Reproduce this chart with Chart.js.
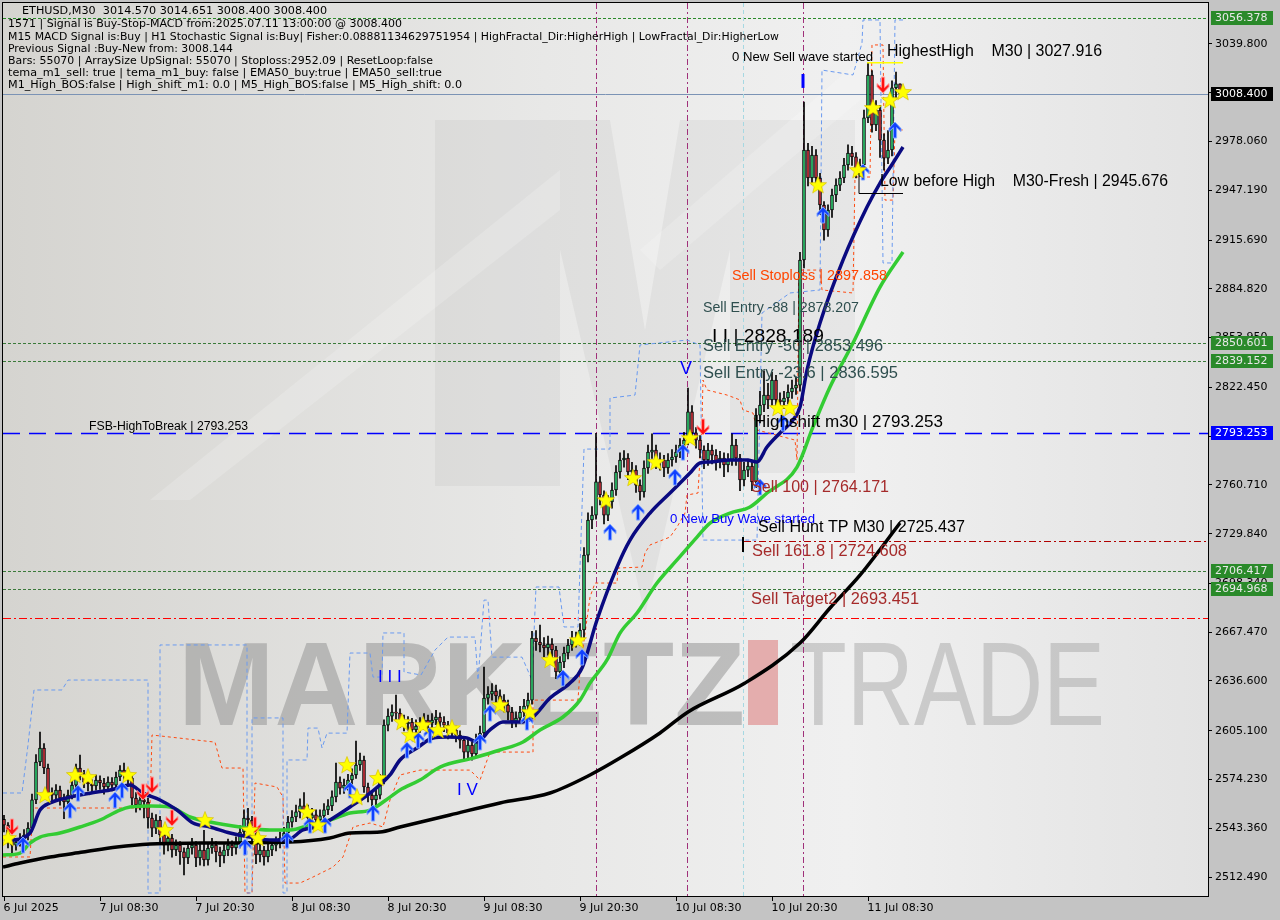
<!DOCTYPE html>
<html><head><meta charset="utf-8">
<script src="https://cdn.jsdelivr.net/npm/chart.js@4.4.1/dist/chart.umd.min.js"></script>
<style>html,body{margin:0;padding:0;background:#c4c4c4;overflow:hidden}</style>
</head><body>
<canvas id="c" width="1280" height="920"></canvas>
<script>
// ===== DATA (ETHUSD M30, bar 0 = 6 Jul 2025 20:30) =====
const opens = [2549.0,2545.4,2535.9,2532.7,2534.6,2537.2,2539.1,2543.5,2561.3,2585.3,
2594.2,2581.5,2565.7,2564.4,2567.6,2562.5,2560.0,2564.4,2570.7,2581.5,
2577.1,2572.6,2571.4,2570.1,2573.9,2572.0,2569.5,2572.6,2570.7,2575.8,
2580.2,2578.3,2575.2,2562.5,2558.1,2561.3,2560.0,2549.9,2543.5,2548.6,
2539.1,2532.7,2537.2,2529.6,2532.7,2528.4,2524.6,2530.9,2532.7,2524.6,
2529.6,2523.3,2530.9,2532.7,2528.4,2525.9,2529.6,2532.7,2530.9,2534.6,
2541.0,2549.9,2548.6,2539.1,2526.5,2529.6,2525.2,2529.6,2532.7,2534.6,
2537.2,2540.4,2547.3,2550.5,2553.7,2557.5,2555.0,2549.9,2551.8,2548.6,
2551.2,2555.0,2557.5,2563.2,2572.6,2568.8,2570.7,2573.9,2577.1,2583.4,
2586.6,2569.5,2564.4,2561.3,2564.4,2573.9,2608.7,2614.4,2616.9,2616.3,
2611.9,2609.4,2610.6,2605.6,2608.1,2609.4,2611.9,2610.0,2611.9,2613.8,
2610.6,2608.7,2603.7,2605.6,2602.4,2599.2,2591.6,2596.1,2590.4,2599.2,
2603.7,2625.8,2628.3,2630.2,2627.1,2624.5,2621.4,2616.9,2611.2,2613.1,
2616.9,2620.7,2624.5,2663.8,2661.3,2659.4,2657.5,2660.0,2656.2,2642.3,
2648.6,2654.3,2659.4,2663.8,2662.5,2668.9,2716.3,2738.5,2741.6,2762.6,
2754.3,2741.6,2749.9,2757.5,2768.9,2776.5,2777.7,2768.9,2770.1,2760.6,
2756.2,2771.4,2781.5,2782.8,2775.2,2776.5,2771.4,2776.5,2778.4,2781.5,
2786.0,2789.1,2806.9,2793.6,2789.1,2782.8,2776.5,2782.8,2779.6,2775.2,
2777.7,2773.3,2776.5,2786.0,2777.7,2763.8,2770.1,2772.6,2762.6,2804.9,
2811.3,2817.6,2814.5,2827.1,2814.5,2813.2,2815.7,2819.5,2822.0,2823.9,
2903.1,2972.7,2955.0,2969.5,2955.0,2937.9,2922.1,2934.7,2944.2,2950.5,
2955.0,2963.2,2970.8,2968.3,2960.0,2963.2,2993.0,3020.2,2988.5,2998.0,
2979.0,2967.6,2972.7,3012.0,3014.57];
const highs = [2551.5,2547.0,2538.5,2537.0,2540.0,2542.5,2547.0,2565.0,2590.0,2604.3,
2597.0,2584.0,2569.0,2571.0,2570.0,2565.0,2567.5,2574.0,2584.0,2589.7,
2580.0,2575.5,2574.0,2577.0,2576.5,2575.0,2576.0,2575.5,2579.0,2583.0,
2584.7,2581.0,2577.0,2566.0,2565.0,2564.5,2562.5,2553.0,2552.0,2551.0,
2542.0,2541.0,2539.5,2536.0,2535.0,2531.0,2534.0,2537.0,2535.0,2533.0,
2542.0,2534.5,2537.0,2535.0,2531.5,2533.0,2536.5,2535.5,2538.0,2545.0,
2555.0,2556.0,2551.0,2541.5,2533.0,2532.0,2533.5,2536.0,2538.0,2541.0,
2544.0,2551.0,2554.5,2558.0,2562.0,2566.0,2558.0,2556.0,2555.0,2555.0,
2559.0,2561.5,2567.0,2584.7,2576.0,2574.5,2577.5,2581.0,2598.6,2591.0,
2589.0,2572.0,2567.0,2568.0,2577.5,2612.0,2619.0,2621.5,2627.7,2619.0,
2615.0,2614.0,2613.0,2612.0,2613.5,2616.0,2615.0,2616.0,2618.0,2616.5,
2614.0,2611.0,2609.5,2608.0,2605.0,2601.5,2600.0,2598.0,2603.0,2608.0,
2645.4,2633.0,2635.0,2634.0,2631.0,2628.0,2624.5,2620.0,2617.0,2620.5,
2625.0,2629.0,2668.0,2668.5,2672.0,2664.0,2665.0,2663.5,2658.5,2652.0,
2658.0,2663.0,2668.0,2667.5,2673.0,2721.0,2743.0,2747.0,2793.3,2766.0,
2757.0,2754.0,2762.0,2773.0,2781.0,2782.5,2780.5,2775.0,2773.0,2764.0,
2776.0,2786.0,2793.0,2786.0,2781.0,2779.5,2780.5,2783.0,2786.0,2790.0,
2794.0,2822.0,2811.0,2797.0,2792.0,2785.5,2787.0,2786.0,2783.0,2782.0,
2781.0,2780.5,2793.0,2789.5,2780.0,2775.0,2777.0,2775.0,2809.0,2820.0,
2833.0,2825.0,2832.0,2830.0,2819.0,2820.0,2824.0,2827.0,2829.0,2908.0,
3003.0,2977.0,2975.0,2973.0,2958.0,2940.0,2938.0,2948.0,2954.5,2959.0,
2967.5,2976.0,2975.0,2971.0,2967.0,2998.0,3027.9,3023.0,3004.0,3001.0,
2983.0,2985.0,3016.5,3022.0,3014.651];
const lows = [2541.0,2531.0,2526.0,2529.5,2532.0,2534.5,2536.0,2541.5,2559.0,2583.0,
2578.0,2562.0,2560.5,2561.0,2558.0,2549.5,2557.0,2562.0,2568.5,2574.0,
2569.0,2567.0,2566.0,2567.5,2568.0,2565.0,2566.5,2567.0,2568.0,2573.5,
2574.5,2570.0,2558.0,2553.5,2555.0,2550.0,2543.5,2538.0,2540.0,2533.0,
2527.0,2529.0,2525.0,2526.0,2520.5,2513.8,2521.0,2527.0,2519.0,2520.0,
2519.5,2520.0,2527.5,2522.0,2519.0,2521.5,2526.0,2526.0,2527.0,2531.0,
2538.5,2544.0,2535.0,2521.0,2522.0,2520.0,2522.0,2526.0,2529.0,2531.0,
2534.0,2538.0,2544.0,2547.5,2550.0,2551.0,2545.0,2546.0,2544.0,2545.0,
2548.0,2552.0,2554.5,2560.0,2565.0,2565.5,2567.5,2571.0,2575.0,2580.0,
2566.0,2560.0,2557.0,2558.0,2562.0,2571.5,2605.0,2611.0,2612.0,2607.0,
2605.0,2605.5,2601.5,2602.0,2604.0,2606.0,2606.0,2606.5,2609.0,2606.0,
2604.5,2600.0,2600.5,2598.0,2594.0,2587.5,2588.0,2586.5,2588.0,2596.0,
2601.0,2622.0,2624.5,2623.0,2620.0,2617.0,2612.0,2607.0,2607.5,2610.0,
2614.0,2618.0,2622.0,2656.0,2655.0,2652.0,2653.0,2650.0,2638.0,2639.0,
2645.0,2650.5,2656.0,2658.0,2659.0,2664.0,2712.0,2733.0,2739.0,2748.0,
2736.0,2738.0,2746.0,2754.0,2765.0,2772.0,2764.0,2764.5,2756.0,2751.0,
2753.0,2768.0,2777.5,2771.0,2770.0,2766.0,2768.0,2772.5,2775.0,2778.0,
2783.0,2786.0,2789.0,2784.0,2778.0,2771.0,2773.0,2774.0,2770.0,2771.5,
2766.0,2769.0,2773.0,2773.0,2757.0,2760.0,2766.0,2757.0,2759.0,2800.0,
2807.0,2809.0,2811.0,2810.0,2808.5,2809.0,2812.0,2815.5,2818.0,2820.0,
2898.0,2950.0,2951.0,2949.0,2932.0,2915.7,2918.0,2930.0,2940.0,2947.0,
2952.0,2960.0,2963.0,2955.0,2956.0,2960.0,2990.0,2984.0,2985.0,2968.0,
2960.0,2964.0,2969.0,3005.0,3008.4];
const closes = [2545.4,2535.9,2532.7,2534.6,2537.2,2539.1,2543.5,2561.3,2585.3,2594.2,
2581.5,2565.7,2564.4,2567.6,2562.5,2560.0,2564.4,2570.7,2581.5,2577.1,
2572.6,2571.4,2570.1,2573.9,2572.0,2569.5,2572.6,2570.7,2575.8,2580.2,
2578.3,2575.2,2562.5,2558.1,2561.3,2560.0,2549.9,2543.5,2548.6,2539.1,
2532.7,2537.2,2529.6,2532.7,2528.4,2524.6,2530.9,2532.7,2524.6,2529.6,
2523.3,2530.9,2532.7,2528.4,2525.9,2529.6,2532.7,2530.9,2534.6,2541.0,
2549.9,2548.6,2539.1,2526.5,2529.6,2525.2,2529.6,2532.7,2534.6,2537.2,
2540.4,2547.3,2550.5,2553.7,2557.5,2555.0,2549.9,2551.8,2548.6,2551.2,
2555.0,2557.5,2563.2,2572.6,2568.8,2570.7,2573.9,2577.1,2583.4,2586.6,
2569.5,2564.4,2561.3,2564.4,2573.9,2608.7,2614.4,2616.9,2616.3,2611.9,
2609.4,2610.6,2605.6,2608.1,2609.4,2611.9,2610.0,2611.9,2613.8,2610.6,
2608.7,2603.7,2605.6,2602.4,2599.2,2591.6,2596.1,2590.4,2599.2,2603.7,
2625.8,2628.3,2630.2,2627.1,2624.5,2621.4,2616.9,2611.2,2613.1,2616.9,
2620.7,2624.5,2663.8,2661.3,2659.4,2657.5,2660.0,2656.2,2642.3,2648.6,
2654.3,2659.4,2663.8,2662.5,2668.9,2716.3,2738.5,2741.6,2762.6,2754.3,
2741.6,2749.9,2757.5,2768.9,2776.5,2777.7,2768.9,2770.1,2760.6,2756.2,
2771.4,2781.5,2782.8,2775.2,2776.5,2771.4,2776.5,2778.4,2781.5,2786.0,
2789.1,2806.9,2793.6,2789.1,2782.8,2776.5,2782.8,2779.6,2775.2,2777.7,
2773.3,2776.5,2786.0,2777.7,2763.8,2770.1,2772.6,2762.6,2804.9,2811.3,
2817.6,2814.5,2827.1,2814.5,2813.2,2815.7,2819.5,2822.0,2823.9,2903.1,
2972.7,2955.0,2969.5,2955.0,2937.9,2922.1,2934.7,2944.2,2950.5,2955.0,
2963.2,2970.8,2968.3,2960.0,2963.2,2993.0,3020.2,2988.5,2998.0,2979.0,
2967.6,2972.7,3012.0,3014.57,3008.4];

// moving averages (bar index, price)
const fastMaBars = [0,1.5,6.5,9,11.5,16.5,21.5,26.5,31.5,34.75,39,43.25,47.25,51.5,56.5,61.5,67.25,70.75,74.75,78.25,81.5,86.5,91.5,96.5,99,103.25,107.25,110.75,115.75,118.25,121.5,124.75,129.75,132.25,136.5,141.5,144.5,148.25,153.25,156.5,161.5,166.5,171.5,174,176.5,181.5,185.75,188.25,190.75,194,197.25,199,200.75,204,209.75,215.75,219,222.25,224.75];
const fastMaValues = [2536.5,2535.9,2540.4,2554.9,2559.4,2563.1,2565.6,2567.6,2570.7,2565.6,2561.3,2554.9,2546.7,2544.2,2540.4,2537.8,2535.9,2535.9,2542.3,2544.2,2548.6,2556.8,2565.6,2577.1,2586.6,2594.2,2600.5,2601.1,2600.5,2598.0,2605.6,2610.6,2610.6,2613.8,2625.8,2635.3,2644.8,2675.2,2708.7,2725.8,2742.9,2755.6,2768.2,2774.6,2775.2,2776.5,2776.5,2775.2,2784.7,2793.6,2801.8,2810.0,2833.4,2863.2,2903.0,2936.6,2951.8,2964.5,2974.6];
const ema50Bars = [-0.25,4,6.5,9,14,19,24,29,31.5,36.5,41.5,46.5,51.5,59,66.5,71.5,76.5,81.5,86.5,91.5,96.5,99,104,109,117.25,124,129.75,134,139.75,144,146.5,150.75,154,158.25,163.25,168.25,173.25,176.5,181.5,186.5,190.75,198.25,202.25,206.5,212.25,219,224.75];
const ema50Values = [2526.4,2527.7,2534.0,2537.8,2540.4,2544.2,2548.6,2554.9,2556.8,2557.5,2556.8,2550.5,2547.3,2544.2,2542.3,2542.3,2545.4,2548.6,2553.0,2554.9,2563.1,2567.6,2573.9,2582.1,2587.8,2592.9,2598.0,2605.6,2613.8,2624.5,2635.3,2649.9,2666.9,2679.6,2698.6,2713.2,2727.7,2736.6,2742.9,2746.7,2755.6,2772.0,2797.4,2822.7,2850.5,2885.9,2908.1];
const slowMaBars = [-0.25,4,11.5,19.75,28.25,36.5,49,71.5,81.5,86.5,94,99,111.5,124,136.5,146.5,154,164,171,185.25,199,206.5,214,224];
const slowMaValues = [2518.8,2521.4,2525.2,2528.3,2531.5,2533.4,2534.0,2534.7,2537.2,2540.4,2541.0,2544.2,2551.8,2559.4,2565.7,2577.1,2587.8,2603.7,2617.0,2635.3,2660.6,2682.8,2703.6,2736.6];

// fractal channels (stepped)
const upperBandBars = [-0.25,4.5,6,7.5,14.5,16,36,36,39,39,60.75,60.75,62,62,69.75,69.75,70.75,70.75,75.75,76,78.5,79.5,80.75,85.75,86.5,91.5,92.25,94.5,94.75,100,100,104.25,107.75,111,117.75,118.5,120,121,122,129.5,132,133,138.75,140,143.5,145,151.5,151.5,157.75,159,170.75,174,174.75,188.25,189.5,196.5,204,204.5,212.25,214.5,214.75,219,219.75,222,222.75,224.75];
const upperBandValues = [2565.7,2565.7,2596.1,2630.9,2630.9,2637.2,2637.2,2502.4,2502.4,2659.4,2659.4,2502.4,2502.4,2613.2,2613.2,2502.4,2502.4,2586.6,2586.6,2606.8,2606.8,2594.2,2603.6,2603.6,2654.3,2654.3,2639.1,2639.1,2667.0,2667.0,2642.3,2640.4,2656.2,2664.4,2664.4,2637.2,2687.8,2687.8,2651.7,2651.7,2637.2,2696.1,2696.1,2670.8,2670.8,2783.4,2783.4,2815.7,2817.6,2849.3,2852.4,2849.3,2725.8,2725.8,2869.5,2882.2,2884.1,3023.3,3020.2,3040.4,3055.0,3055.0,2901.2,2901.2,3055.0,3055.0];
const lowerBandBars = [-0.25,6.5,7.25,36.5,37,52.75,54.5,59.75,60.25,62,62.75,68.25,69.75,70.25,74,77.25,82.25,84.75,87.25,91.5,94.75,96.5,99,104,116.5,119,121.5,132.25,132.25,143.5,144,146.5,147.75,153.25,153.5,159.5,160.25,161.5,166.5,168.25,170.25,170.75,173.5,174.5,174.75,175.75,180.75,184,184.75,187.25,188.25,197.75,198.25,198.75,204,204.5,212.25,212.75,216.5,217,219.75,220.25,222.25,222.75,224.75];
const lowerBandValues = [2525.2,2525.2,2556.2,2556.2,2602.4,2597.9,2581.5,2581.5,2502.4,2502.4,2572.0,2569.5,2563.2,2508.7,2508.7,2512.5,2518.8,2525.2,2544.2,2546.7,2544.2,2561.3,2577.1,2580.2,2580.2,2573.9,2591.6,2591.6,2624.5,2624.5,2643.5,2689.7,2698.6,2698.6,2708.1,2708.7,2717.6,2722.7,2727.7,2734.0,2742.9,2754.3,2755.6,2799.9,2827.1,2820.8,2817.6,2814.5,2808.1,2806.2,2795.5,2789.1,2776.5,2896.7,2896.7,2884.1,2882.2,2955.6,2955.6,3039.2,3039.2,2941.0,2941.0,2985.4,2985.4];

// signal markers
const starBars = [1,10.25,17.75,21,31,40.25,50.25,61.5,63.5,75.75,78.5,85.75,88.25,93.5,99.5,101.5,104.75,108.5,112,124,131.5,136.5,143.5,150.5,157.25,163,171.5,193.5,196.5,203.5,213.5,217.25,221.5,224.75];
const starPrices = [2537.2,2564.4,2577.1,2575.8,2577.1,2542.3,2548.6,2542.3,2537.2,2553.7,2545.4,2583.4,2563.1,2575.2,2610.6,2602.4,2608.7,2605.6,2606.8,2621.4,2616.9,2649.9,2662.5,2751.1,2765.1,2775.2,2790.4,2809.4,2809.4,2950.5,2960.0,2999.3,3004.3,3009.4];
const buyArrowBars = [4.75,16.5,18.5,27.75,29.5,60.25,70.75,76.5,80.25,86.5,92.25,100.75,103.5,106.5,119,121.5,130.75,139.75,144.5,151.5,158.5,167.75,169.75,189,194.75,204.75,214.75,222.75];
const buyArrowPrices = [2532.8,2554.9,2565.6,2561.3,2567.6,2531.5,2535.9,2545.4,2545.4,2567.6,2553.0,2592.9,2599.2,2602.4,2598.0,2616.3,2610.6,2638.5,2651.8,2730.9,2743.5,2765.7,2781.5,2759.4,2799.9,2931.6,2958.8,2985.4];
const sellArrowBars = [2,34.75,37,42,62.75,174.75,219.75];
const sellArrowPrices = [2544.2,2566.3,2570.7,2549.9,2545.4,2797.4,3013.8];

// levels
const levelPrices = [3056.378,3008.400,2850.601,2839.152,2793.253,2706.417,2694.968,2676.5];
const tagPrices = [3056.378,3008.400,2850.601,2839.152,2793.253,2706.417,2694.968];
const huntTpPrice = 2725.437;
const highestHigh = 3027.916;
const lowBeforeHigh = 2945.676;
const sessionLineBars = [148,170.75,199.75];
const cyanLineBars = [184.75];

// axis labels
const yTickValues = [3039.800,3008.930,2978.060,2947.190,2915.690,2884.820,2853.950,2822.450,2791.580,2760.710,2729.840,2698.340,2667.470,2636.600,2605.100,2574.230,2543.360,2512.490];
const xTickBars = [0,24,48,72,96,120,144,168,192,216];
const xTickLabels = ['6 Jul 2025','7 Jul 08:30','7 Jul 20:30','8 Jul 08:30','8 Jul 20:30','9 Jul 08:30','9 Jul 20:30','10 Jul 08:30','10 Jul 20:30','11 Jul 08:30'];

// chart annotations
const noteTexts = ['0 New Sell wave started','HighestHigh    M30 | 3027.916','Low before High    M30-Fresh | 2945.676','Sell Stoploss | 2897.858','Sell Entry -88 | 2878.207','I I | 2828.189','Sell Entry -50 | 2853.496','Sell Entry -23.6 | 2836.595','Highshift m30 | 2793.253','FSB-HighToBreak | 2793.253','Sell 100 | 2764.171','0 New Buy Wave started','Sell Hunt TP M30 | 2725.437','Sell 161.8 | 2724.608','Sell Target2 | 2693.451','V','I I I','I V'];
const noteBars = [182,220.75,219,182,174.75,177,174.75,174.75,187.5,21.25,186.75,166.5,188.5,187,186.75,169,93.5,113.25];
const notePrices = [3031.6,3034.7,2952.4,2892.9,2872.7,2854.3,2848.0,2830.9,2799.9,2797.4,2758.7,2739.1,2733.4,2718.2,2687.9,2834.1,2639.1,2567.6];

const headerLines = ['ETHUSD,M30  3014.570 3014.651 3008.400 3008.400',
'1571 | Signal is Buy-Stop-MACD from:2025.07.11 13:00:00 @ 3008.400',
'M15 MACD Signal is:Buy | H1 Stochastic Signal is:Buy| Fisher:0.08881134629751954 | HighFractal_Dir:HigherHigh | LowFractal_Dir:HigherLow',
'Previous Signal :Buy-New from: 3008.144',
'Bars: 55070 | ArraySize UpSignal: 55070 | Stoploss:2952.09 | ResetLoop:false',
'tema_m1_sell: true | tema_m1_buy: false | EMA50_buy:true | EMA50_sell:true',
'M1_High_BOS:false | High_shift_m1: 0.0 | M5_High_BOS:false | M5_High_shift: 0.0'];

// ===== STYLES =====
const noteStyles = [
 {s:13,c:'#000',w:141},{s:16,c:'#000',w:215},{s:16,c:'#000',w:288},{s:14,c:'#ff4500',w:155},
 {s:14,c:'#2f4f4f',w:156},{s:18,c:'#000',w:112},{s:16,c:'#2f4f4f',w:180},{s:16,c:'#2f4f4f',w:195},
 {s:16,c:'#000',w:189},{s:12,c:'#000',w:159},{s:16,c:'#a52a2a',w:138},{s:13,c:'#0000ff',w:145},
 {s:16,c:'#000',w:207},{s:16,c:'#a52a2a',w:155},{s:16,c:'#a52a2a',w:168},{s:18,c:'#0000ff',w:0},
 {s:17,c:'#0000ff',w:0},{s:17,c:'#0000ff',w:0}];
const levelStyles = [
 {c:'#2a8a2a',d:[3,2],w:1},{c:'#7b93b5',d:[],w:1},{c:'#3a7a3a',d:[3,2],w:1},{c:'#3a7a3a',d:[3,2],w:1},
 {c:'#0000ff',d:[17,9],w:1.5},{c:'#3a7a3a',d:[3,2],w:1},{c:'#3a7a3a',d:[3,2],w:1},{c:'#ff0000',d:[8,3,2,3],w:1}];
const tagStyles = [
 {bg:'#2a8a2a',fg:'#e8e8e8'},{bg:'#000000',fg:'#ffffff'},{bg:'#2a8a2a',fg:'#e8e8e8'},{bg:'#2a8a2a',fg:'#e8e8e8'},
 {bg:'#0000ff',fg:'#ffffff'},{bg:'#2a8a2a',fg:'#e8e8e8'},{bg:'#2a8a2a',fg:'#e8e8e8'}];
const headerW = [305,394,771,225,425,434,454];
const headerY = [11,24,37,49,61,73,85];

function makeStar(){const c=document.createElement('canvas');c.width=20;c.height=20;const g=c.getContext('2d');
 g.beginPath();for(let k=0;k<10;k++){const r=k%2?3.9:9;const a=-Math.PI/2+k*Math.PI/5;g.lineTo(10+r*Math.cos(a),10.5+r*Math.sin(a));}
 g.closePath();g.fillStyle='#ffff00';g.fill();g.strokeStyle='#d8c000';g.lineWidth=0.7;g.stroke();return c;}
function makeArrow(up,fill,edge){const c=document.createElement('canvas');c.width=14;c.height=18;const g=c.getContext('2d');
 const pts=[[7,1],[13,7.5],[13,10.5],[8.6,6.6],[8.6,17],[5.4,17],[5.4,6.6],[1,10.5],[1,7.5]];
 g.beginPath();pts.forEach(p=>{const y=up?p[1]:18-p[1];g.lineTo(p[0],y);});g.closePath();
 g.fillStyle=fill;g.fill();g.strokeStyle=edge;g.lineWidth=1;g.stroke();return c;}
const starImg=makeStar(), upImg=makeArrow(true,'#1040ff','#7fa6ff'), dnImg=makeArrow(false,'#ff1010','#ff9a9a');

function fitText(ctx,t,x,y,font,color,w){ctx.save();ctx.font=font;ctx.fillStyle=color;ctx.textBaseline='middle';ctx.textAlign='left';
 const m=ctx.measureText(t).width;ctx.translate(x,y);if(w&&m>0)ctx.scale(w/m,1);ctx.fillText(t,0,0);ctx.restore();}

const pairs=(b,v)=>b.map((x,k)=>({x:x,y:v[k]}));
const idx = closes.map((_,i)=>i);

const backPlugin={id:'back',beforeDraw(chart){
 const ctx=chart.ctx,a=chart.chartArea,xs=chart.scales.x,ys=chart.scales.y;
 ctx.save();ctx.fillStyle='#c4c4c4';ctx.fillRect(0,0,chart.width,chart.height);
 const gr=ctx.createLinearGradient(a.left,0,a.right,0);
 gr.addColorStop(0,'#d5d4d0');gr.addColorStop(0.45,'#e8e8e7');gr.addColorStop(0.7,'#f0f0f0');gr.addColorStop(1,'#e3e3e3');
 ctx.fillStyle=gr;ctx.fillRect(a.left,a.top,a.right-a.left,a.bottom-a.top);
 // faint logo
 ctx.fillStyle='rgba(0,0,0,0.04)';
 ctx.fillRect(435,120,125,366);ctx.fillRect(730,120,125,353);
 ctx.beginPath();ctx.moveTo(560,120);ctx.lineTo(610,120);ctx.lineTo(645,330);ctx.lineTo(680,120);ctx.lineTo(730,120);ctx.lineTo(730,250);ctx.lineTo(645,615);ctx.lineTo(560,250);ctx.closePath();ctx.fill();
 ctx.fillStyle='rgba(255,255,255,0.18)';
 ctx.beginPath();ctx.moveTo(150,500);ctx.lineTo(560,170);ctx.lineTo(560,210);ctx.lineTo(190,500);ctx.closePath();ctx.fill();
 ctx.beginPath();ctx.moveTo(640,250);ctx.lineTo(860,60);ctx.lineTo(860,100);ctx.lineTo(660,270);ctx.closePath();ctx.fill();
 // watermark
 const word=(t,font,col,x0,x1,base,h)=>{ctx.save();ctx.font=font;const m=ctx.measureText(t).width;ctx.translate(x0,base);ctx.scale((x1-x0)/m,h/72);ctx.fillStyle=col;ctx.textBaseline='alphabetic';ctx.fillText(t,0,0);ctx.restore();};
 word('MARKETZ','bold 100px "Liberation Sans"','rgba(150,150,150,0.55)',178,745,725,86);
 ctx.fillStyle='rgba(220,120,120,0.55)';ctx.fillRect(748,640,30,85);
 word('TRADE','100px "Liberation Sans"','rgba(160,160,160,0.45)',790,1105,725,86);
 ctx.beginPath();ctx.rect(a.left,a.top,a.right-a.left,a.bottom-a.top);ctx.clip();
 // level lines
 levelPrices.forEach((p,k)=>{const st=levelStyles[k];const y=Math.round(ys.getPixelForValue(p))+0.5;
  ctx.strokeStyle=st.c;ctx.lineWidth=st.w;ctx.setLineDash(st.d);ctx.beginPath();ctx.moveTo(a.left,y);ctx.lineTo(a.right,y);ctx.stroke();});
 const yh=Math.round(ys.getPixelForValue(huntTpPrice))+0.5;
 ctx.strokeStyle='#b00000';ctx.lineWidth=1;ctx.setLineDash([7,3,2,3]);ctx.beginPath();ctx.moveTo(xs.getPixelForValue(185),yh);ctx.lineTo(a.right,yh);ctx.stroke();
 sessionLineBars.forEach(b=>{const x=Math.round(xs.getPixelForValue(b))+0.5;ctx.strokeStyle='#a0307a';ctx.setLineDash([6,3,2,3]);ctx.beginPath();ctx.moveTo(x,a.top);ctx.lineTo(x,a.bottom);ctx.stroke();});
 cyanLineBars.forEach(b=>{const x=Math.round(xs.getPixelForValue(b))+0.5;ctx.strokeStyle='#a6d8e2';ctx.setLineDash([4,3]);ctx.beginPath();ctx.moveTo(x,a.top);ctx.lineTo(x,a.bottom);ctx.stroke();});
 ctx.restore();
}};

const notePlugin={id:'notes',afterDatasetsDraw(chart){
 const ctx=chart.ctx,xs=chart.scales.x,ys=chart.scales.y,a=chart.chartArea;
 ctx.save();
 const yH=ys.getPixelForValue(highestHigh);ctx.strokeStyle='#ffff00';ctx.lineWidth=1.5;ctx.beginPath();ctx.moveTo(xs.getPixelForValue(215.75),yH);ctx.lineTo(xs.getPixelForValue(224.75),yH);ctx.stroke();
 const yL=Math.round(ys.getPixelForValue(lowBeforeHigh))+0.5;ctx.strokeStyle='#000';ctx.lineWidth=1;ctx.beginPath();
 ctx.moveTo(xs.getPixelForValue(213.75),ys.getPixelForValue(2958.1));ctx.lineTo(xs.getPixelForValue(213.75),yL);ctx.lineTo(xs.getPixelForValue(224.75),yL);ctx.stroke();
 ctx.strokeStyle='#0000ff';ctx.lineWidth=3;ctx.beginPath();ctx.moveTo(xs.getPixelForValue(199.75),ys.getPixelForValue(3020.8));ctx.lineTo(xs.getPixelForValue(199.75),ys.getPixelForValue(3012.0));ctx.stroke();
 ctx.strokeStyle='#000';ctx.lineWidth=2;ctx.beginPath();ctx.moveTo(xs.getPixelForValue(184.75),ys.getPixelForValue(2727.7));ctx.lineTo(xs.getPixelForValue(184.75),ys.getPixelForValue(2718.2));ctx.stroke();
 noteTexts.forEach((t,k)=>{const st=noteStyles[k];fitText(ctx,t,xs.getPixelForValue(noteBars[k]),ys.getPixelForValue(notePrices[k]),st.s+'px "Liberation Sans"',st.c,st.w);});
 headerLines.forEach((t,k)=>fitText(ctx,t,k===0?22:8,headerY[k],'11px "DejaVu Sans"','#000',headerW[k]));
 ctx.restore();
},afterDraw(chart){
 const ctx=chart.ctx,xs=chart.scales.x,ys=chart.scales.y,a=chart.chartArea;
 ctx.save();
 ctx.strokeStyle='#000';ctx.lineWidth=1;ctx.setLineDash([]);ctx.strokeRect(a.left-0.5,a.top-0.5,a.right-a.left+1,a.bottom-a.top+1);
 ctx.font='11px "DejaVu Sans"';ctx.textBaseline='middle';ctx.textAlign='left';
 xTickBars.forEach((b,k)=>{const x=Math.round(xs.getPixelForValue(b))+0.5;ctx.beginPath();ctx.moveTo(x,a.bottom);ctx.lineTo(x,a.bottom+5);ctx.stroke();ctx.fillStyle='#000';ctx.fillText(xTickLabels[k],x-1,a.bottom+12);});
 tagPrices.forEach((p,k)=>{const y=Math.round(ys.getPixelForValue(p));const st=tagStyles[k];ctx.fillStyle=st.bg;ctx.fillRect(a.right+3,y-7,62,14);ctx.fillStyle=st.fg;ctx.fillText(p.toFixed(3),a.right+7,y);});
 ctx.restore();
}};

new Chart(document.getElementById('c'),{
 type:'bar',
 data:{datasets:[
  {type:'scatter',data:pairs(starBars,starPrices),pointStyle:starImg,pointRadius:6,order:1},
  {type:'scatter',data:pairs(buyArrowBars,buyArrowPrices),pointStyle:upImg,pointRadius:6,order:2},
  {type:'scatter',data:pairs(sellArrowBars,sellArrowPrices),pointStyle:dnImg,pointRadius:6,order:2},
  {type:'line',data:pairs(fastMaBars,fastMaValues),borderColor:'#0a0a80',borderWidth:3.5,pointRadius:0,cubicInterpolationMode:'monotone',order:3},
  {type:'line',data:pairs(ema50Bars,ema50Values),borderColor:'#33cc33',borderWidth:3.5,pointRadius:0,cubicInterpolationMode:'monotone',order:4},
  {type:'line',data:pairs(slowMaBars,slowMaValues),borderColor:'#000000',borderWidth:3.5,pointRadius:0,cubicInterpolationMode:'monotone',order:5},
  {type:'bar',data:idx.map(i=>({x:i,y:[opens[i],closes[i]]})),grouped:false,barThickness:3,minBarLength:1,
   backgroundColor:idx.map(i=>closes[i]>=opens[i]?'#2fc66e':'#c8323c'),borderColor:'#000',borderWidth:1,borderSkipped:false,order:6},
  {type:'bar',data:idx.map(i=>({x:i,y:[lows[i],highs[i]]})),grouped:false,barThickness:1,backgroundColor:'#000',borderWidth:0,order:7},
  {type:'line',data:pairs(upperBandBars,upperBandValues),borderColor:'#6a9af0',borderWidth:1,borderDash:[4,3],pointRadius:0,tension:0,order:8},
  {type:'line',data:pairs(lowerBandBars,lowerBandValues),borderColor:'#ff4a10',borderWidth:1,borderDash:[3,3],pointRadius:0,tension:0,order:9}
 ]},
 options:{responsive:false,animation:false,devicePixelRatio:1,
  layout:{autoPadding:false,padding:{left:3,top:3,right:0,bottom:24}},
  plugins:{legend:{display:false},tooltip:{enabled:false}},
  scales:{
   x:{type:'linear',min:-0.25,max:301,offset:false,display:false},
   y:{type:'linear',position:'right',min:2500.5,max:3065.75,
      afterBuildTicks:s=>{s.ticks=yTickValues.map(v=>({value:v}));},
      afterFit:s=>{s.width=72;s.paddingTop=0;s.paddingBottom=0;},
      ticks:{autoSkip:false,callback:v=>Number(v).toFixed(3),font:{family:'DejaVu Sans',size:11},color:'#000',padding:3},
      grid:{drawOnChartArea:false,color:'#000',tickLength:4},
      border:{color:'#000'}}
  }},
 plugins:[backPlugin,notePlugin]
});
</script>
</body></html>
